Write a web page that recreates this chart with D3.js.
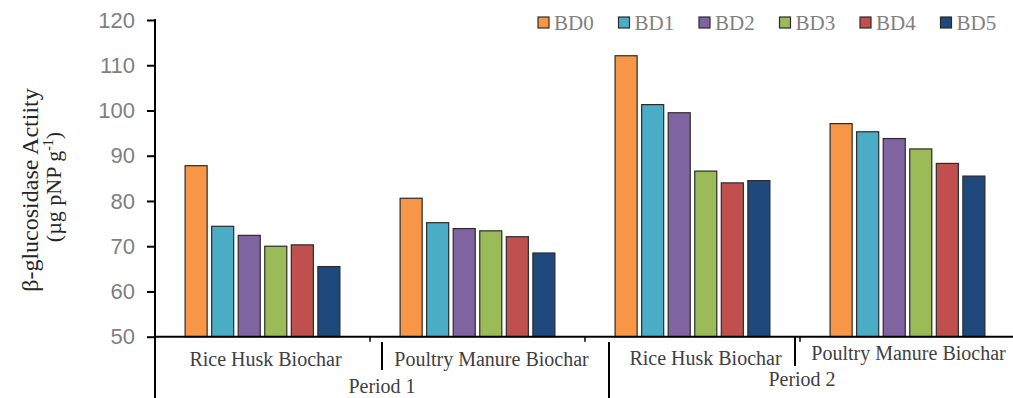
<!DOCTYPE html>
<html>
<head>
<meta charset="utf-8">
<script src="https://cdn.jsdelivr.net/npm/d3@7"></script>
<style>
  body { margin: 0; background: white; }
  svg { display: block; }
</style>
</head>
<body>
<div id="chart"></div>
<script>
  // data
  const groups = ['P1 Rice Husk', 'P1 Poultry Manure', 'P2 Rice Husk', 'P2 Poultry Manure'];
  const groupLabels = ['Rice Husk Biochar', 'Poultry Manure Biochar', 'Rice Husk Biochar', 'Poultry Manure Biochar'];
  const periods = ['Period 1', 'Period 2'];
  const series = ['BD0', 'BD1', 'BD2', 'BD3', 'BD4', 'BD5'];
  const BD0 = [87.8, 80.6, 112.1, 97.1];
  const BD1 = [74.4, 75.2, 101.3, 95.3];
  const BD2 = [72.4, 73.9, 99.5, 93.8];
  const BD3 = [70.0, 73.4, 86.6, 91.5];
  const BD4 = [70.3, 72.1, 84.0, 88.3];
  const BD5 = [65.5, 68.5, 84.5, 85.5];
  const yTicks = [50, 60, 70, 80, 90, 100, 110, 120];

  const values = [BD0, BD1, BD2, BD3, BD4, BD5];
  const colors = ['#F79646', '#4BACC6', '#8064A2', '#9BBB59', '#C0504D', '#1F497D'];

  const w = 1013, h = 398;
  const plotLeft = 155, plotRight = 1015, plotTop = 20, plotBottom = 336.7;

  const svg = d3.select('#chart').append('svg')
      .attr('width', w)
      .attr('height', h);

  const x0 = d3.scaleBand().domain(groups).range([plotLeft, plotRight])
      .paddingInner(0.28).paddingOuter(0.14);
  const x1 = d3.scaleBand().domain(series).range([0, x0.bandwidth()])
      .paddingInner(0.17).paddingOuter(0);
  const y = d3.scaleLinear().domain([50, 120]).range([plotBottom, plotTop]);

  // bars
  const g = svg.append('g');
  groups.forEach(function(grp, gi){
    series.forEach(function(s, si){
      g.append('rect')
        .attr('x', x0(grp) + x1(s))
        .attr('y', y(values[si][gi]))
        .attr('width', x1.bandwidth())
        .attr('height', y(50) - y(values[si][gi]))
        .attr('fill', colors[si])
        .attr('stroke', '#2b2b2b')
        .attr('stroke-width', 1.2);
    });
  });

  // y axis
  const yAxis = d3.axisLeft(y).tickValues(yTicks).tickSize(8).tickPadding(12);
  const ya = svg.append('g').attr('transform', `translate(${plotLeft},0)`).call(yAxis);
  ya.select('.domain').remove();
  ya.selectAll('.tick line').attr('stroke', '#000').attr('stroke-width', 2);
  ya.selectAll('.tick text')
    .attr('fill', '#7f7f7f')
    .style('font-family', '"Liberation Sans", Arial, sans-serif')
    .style('font-size', '22px');
  svg.append('line')
    .attr('x1', plotLeft).attr('x2', plotLeft)
    .attr('y1', y(120) - 1).attr('y2', h)
    .attr('stroke', '#000').attr('stroke-width', 2);

  // x baseline
  svg.append('line')
    .attr('x1', plotLeft).attr('x2', w)
    .attr('y1', y(50)).attr('y2', y(50))
    .attr('stroke', '#000').attr('stroke-width', 2);

  // small ticks at the category boundaries
  const bounds = groups.slice(1).map(d => x0(d) - x0.step() * x0.paddingInner() / 2);
  bounds.forEach(function(bx){
    svg.append('line')
      .attr('x1', bx).attr('x2', bx)
      .attr('y1', y(50)).attr('y2', y(50) + 5)
      .attr('stroke', '#000').attr('stroke-width', 1.5);
  });

  // label separators (label row is laid out slightly shifted in the picture)
  const sepShift = [12, 24, -5];
  const sepTop = [342, 342, 337];
  const sepBottom = [370, h, 366];
  bounds.forEach(function(bx, i){
    svg.append('line')
      .attr('x1', bx + sepShift[i]).attr('x2', bx + sepShift[i])
      .attr('y1', sepTop[i]).attr('y2', sepBottom[i])
      .attr('stroke', '#000').attr('stroke-width', 2);
  });

  // category labels
  const labShift = [3, 14, 13, 1];
  const labY = [366, 366, 365, 360];
  groups.forEach(function(grp, gi){
    svg.append('text')
      .attr('x', x0(grp) + x0.bandwidth() / 2 + labShift[gi])
      .attr('y', labY[gi])
      .attr('text-anchor', 'middle')
      .attr('fill', '#404040')
      .style('font-family', '"Liberation Serif", serif')
      .style('font-size', '20px')
      .text(groupLabels[gi]);
  });

  // period labels
  const periodX = [(plotLeft + bounds[1] + sepShift[1]) / 2, (bounds[1] + sepShift[1] + 995) / 2];
  const periodY = [393, 386];
  periods.forEach(function(p, i){
    svg.append('text')
      .attr('x', periodX[i])
      .attr('y', periodY[i])
      .attr('text-anchor', 'middle')
      .attr('fill', '#404040')
      .style('font-family', '"Liberation Serif", serif')
      .style('font-size', '20px')
      .text(p);
  });

  // y axis title
  const title = svg.append('text')
    .attr('transform', 'translate(38,190) rotate(-90)')
    .attr('text-anchor', 'middle')
    .attr('fill', '#262626')
    .style('font-family', '"Liberation Serif", serif')
    .style('font-size', '24px');
  title.append('tspan').attr('x', 0).attr('y', 0).text('β-glucosidase Actiity');
  const title2 = svg.append('text')
    .attr('transform', 'translate(61,187) rotate(-90)')
    .attr('text-anchor', 'middle')
    .attr('fill', '#262626')
    .style('font-family', '"Liberation Serif", serif')
    .style('font-size', '22px');
  title2.append('tspan').text('(µg pNP g');
  title2.append('tspan').attr('dy', -8).style('font-size', '14px').text('-1');
  title2.append('tspan').attr('dy', 8).text(')');

  // legend
  const legend = svg.append('g').attr('transform', 'translate(538,17)');
  series.forEach(function(s, i){
    const item = legend.append('g').attr('transform', `translate(${i * 80.5},0)`);
    item.append('rect')
      .attr('x', 0).attr('y', 0)
      .attr('width', 11).attr('height', 11)
      .attr('fill', colors[i])
      .attr('stroke', '#2b2b2b')
      .attr('stroke-width', 1.2);
    item.append('text')
      .attr('x', 16).attr('y', 13)
      .attr('fill', '#7f7f7f')
      .style('font-family', '"Liberation Serif", serif')
      .style('font-size', '21px')
      .text(s);
  });
</script>
</body>
</html>
